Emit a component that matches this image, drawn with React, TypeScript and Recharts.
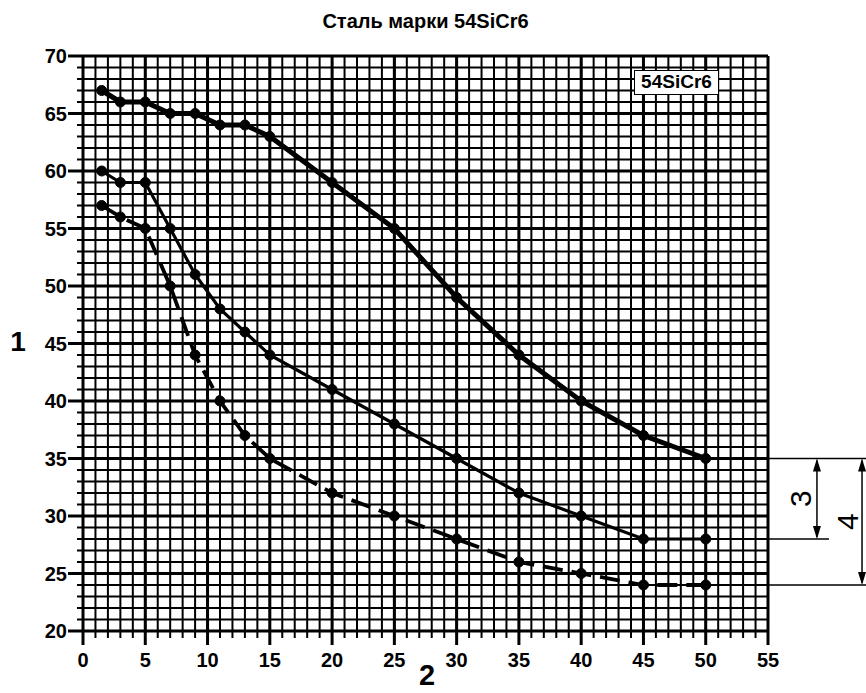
import React from "react";
import {
  LineChart,
  Line,
  XAxis,
  YAxis,
  CartesianGrid,
  ReferenceLine,
} from "recharts";

// Data
const xValues = [1.5, 3, 5, 7, 9, 11, 13, 15, 20, 25, 30, 35, 40, 45, 50];
const curveTop = [67, 66, 66, 65, 65, 64, 64, 63, 59, 55, 49, 44, 40, 37, 35];
const curveMid = [60, 59, 59, 55, 51, 48, 46, 44, 41, 38, 35, 32, 30, 28, 28];
const curveLow = [57, 56, 55, 50, 44, 40, 37, 35, 32, 30, 28, 26, 25, 24, 24];

const xTicks = Array.from({ length: 56 }, (_, i) => i); // 0..55
const yTicks = Array.from({ length: 51 }, (_, i) => 20 + i); // 20..70
const xMajor = xTicks.filter((v) => v % 5 === 0);
const yMajor = yTicks.filter((v) => v % 5 === 0);

const title = "Сталь марки 54SiCr6";
const legendText = "54SiCr6";
const yLabel = "1";
const xLabel = "2";
const dimLabel3 = "3";
const dimLabel4 = "4";

const data = xValues.map((x, i) => ({
  x,
  top: curveTop[i],
  mid: curveMid[i],
  low: curveLow[i],
}));

const lastTop = curveTop[curveTop.length - 1];
const lastMid = curveMid[curveMid.length - 1];
const lastLow = curveLow[curveLow.length - 1];

const FONT = "'Liberation Sans', Arial, Helvetica, sans-serif";

const XTick = (props: any) => {
  const { x, y, payload } = props;
  const v = payload.value;
  const major = v % 5 === 0;
  return (
    <g>
      <line
        x1={x}
        x2={x}
        y1={y}
        y2={y + (major ? 14 : 7)}
        stroke="#000"
        strokeWidth={major ? 3 : 2}
      />
      {major && (
        <text
          x={x}
          y={y + 36}
          textAnchor="middle"
          fontFamily={FONT}
          fontWeight="bold"
          fontSize={20}
          fill="#000"
        >
          {v}
        </text>
      )}
    </g>
  );
};

const YTick = (props: any) => {
  const { x, y, payload } = props;
  const v = payload.value;
  const major = v % 5 === 0;
  return (
    <g>
      <line
        x1={x}
        x2={x - (major ? 15 : 6)}
        y1={y}
        y2={y}
        stroke="#000"
        strokeWidth={major ? 3 : 2}
      />
      {major && (
        <text
          x={x - 16}
          y={y}
          dy="0.36em"
          textAnchor="end"
          fontFamily={FONT}
          fontWeight="bold"
          fontSize={20}
          fill="#000"
        >
          {v}
        </text>
      )}
    </g>
  );
};

const makeArrow = (label: string, labelOffset: number) => (p: any) => {
  const { x1, y1, x2, y2 } = p;
  const top = Math.min(y1, y2);
  const bottom = Math.max(y1, y2);
  const ah = 13;
  const aw = 4;
  return (
    <g>
      <line x1={x1} x2={x2} y1={top + 2} y2={bottom - 2} stroke="#000" strokeWidth={1.5} />
      <polygon
        points={`${x1},${top} ${x1 - aw},${top + ah} ${x1 + aw},${top + ah}`}
        fill="#000"
      />
      <polygon
        points={`${x1},${bottom} ${x1 - aw},${bottom - ah} ${x1 + aw},${bottom - ah}`}
        fill="#000"
      />
      <text
        x={x1 + labelOffset}
        y={(top + bottom) / 2}
        transform={`rotate(-90 ${x1 + labelOffset} ${(top + bottom) / 2})`}
        textAnchor="middle"
        dy="0.36em"
        fontFamily={FONT}
        fontSize={30}
        fill="#000"
      >
        {label}
      </text>
    </g>
  );
};

const dotStyle = { r: 5, fill: "#000", stroke: "#000", strokeWidth: 1, strokeDasharray: "0" };

export default function App() {
  return (
    <div style={{ position: "absolute", left: 0, top: 0, width: 866, height: 693, background: "#fff" }}>
      <LineChart
        width={866}
        height={693}
        data={data}
        margin={{ top: 56, right: 98, bottom: 22, left: 23 }}
      >
        <CartesianGrid stroke="#000" strokeWidth={2} strokeOpacity={1} />
        <XAxis
          dataKey="x"
          type="number"
          domain={[0, 55]}
          ticks={xTicks}
          interval={0}
          height={40}
          axisLine={false}
          tickLine={false}
          tickSize={0}
          tickMargin={0}
          tick={<XTick />}
          allowDataOverflow
        />
        <YAxis
          type="number"
          domain={[20, 70]}
          ticks={yTicks}
          interval={0}
          width={60}
          axisLine={false}
          tickLine={false}
          tickSize={0}
          tickMargin={0}
          tick={<YTick />}
          allowDataOverflow
        />
        {xMajor.map((v) => (
          <ReferenceLine key={`vx${v}`} x={v} stroke="#000" strokeWidth={3} />
        ))}
        {yMajor.map((v) => (
          <ReferenceLine key={`hy${v}`} y={v} stroke="#000" strokeWidth={3} />
        ))}
        {/* dimension lines on the right */}
        <ReferenceLine
          segment={[{ x: 55, y: lastTop }, { x: 62.9, y: lastTop }]}
          ifOverflow="visible"
          stroke="#000"
          strokeWidth={1.5}
        />
        <ReferenceLine
          segment={[{ x: 55, y: lastMid }, { x: 59.9, y: lastMid }]}
          ifOverflow="visible"
          stroke="#000"
          strokeWidth={1.5}
        />
        <ReferenceLine
          segment={[{ x: 55, y: lastLow }, { x: 62.9, y: lastLow }]}
          ifOverflow="visible"
          stroke="#000"
          strokeWidth={1.5}
        />
        <ReferenceLine
          segment={[{ x: 58.93, y: lastTop }, { x: 58.93, y: lastMid }]}
          ifOverflow="visible"
          shape={makeArrow(dimLabel3, -17)}
        />
        <ReferenceLine
          segment={[{ x: 62.55, y: lastTop }, { x: 62.55, y: lastLow }]}
          ifOverflow="visible"
          shape={makeArrow(dimLabel4, -15)}
        />
        <Line
          dataKey="top"
          type="linear"
          stroke="#000"
          strokeWidth={5}
          dot={dotStyle}
          isAnimationActive={false}
        />
        <Line
          dataKey="mid"
          type="linear"
          stroke="#000"
          strokeWidth={3.2}
          dot={dotStyle}
          isAnimationActive={false}
        />
        <Line
          dataKey="low"
          type="linear"
          stroke="#000"
          strokeWidth={3.8}
          strokeDasharray="20 9"
          dot={dotStyle}
          isAnimationActive={false}
        />
      </LineChart>
      <div
        style={{
          position: "absolute",
          left: 83,
          width: 685,
          top: 9,
          textAlign: "center",
          fontFamily: FONT,
          fontWeight: "bold",
          fontSize: 20,
          lineHeight: "24px",
          color: "#000",
        }}
      >
        {title}
      </div>
      <div
        style={{
          position: "absolute",
          left: 634,
          top: 70,
          width: 85,
          height: 25,
          boxSizing: "border-box",
          border: "1.5px solid #000",
          background: "#fff",
          fontFamily: FONT,
          fontWeight: "bold",
          fontSize: 19,
          lineHeight: "22px",
          textAlign: "center",
          color: "#000",
        }}
      >
        {legendText}
      </div>
      <div
        style={{
          position: "absolute",
          left: 4,
          top: 326,
          width: 28,
          textAlign: "center",
          fontFamily: FONT,
          fontWeight: "bold",
          fontSize: 28,
          lineHeight: "32px",
          color: "#000",
        }}
      >
        {yLabel}
      </div>
      <div
        style={{
          position: "absolute",
          left: 413,
          top: 659,
          width: 28,
          textAlign: "center",
          fontFamily: FONT,
          fontWeight: "bold",
          fontSize: 29,
          lineHeight: "32px",
          color: "#000",
        }}
      >
        {xLabel}
      </div>
    </div>
  );
}
